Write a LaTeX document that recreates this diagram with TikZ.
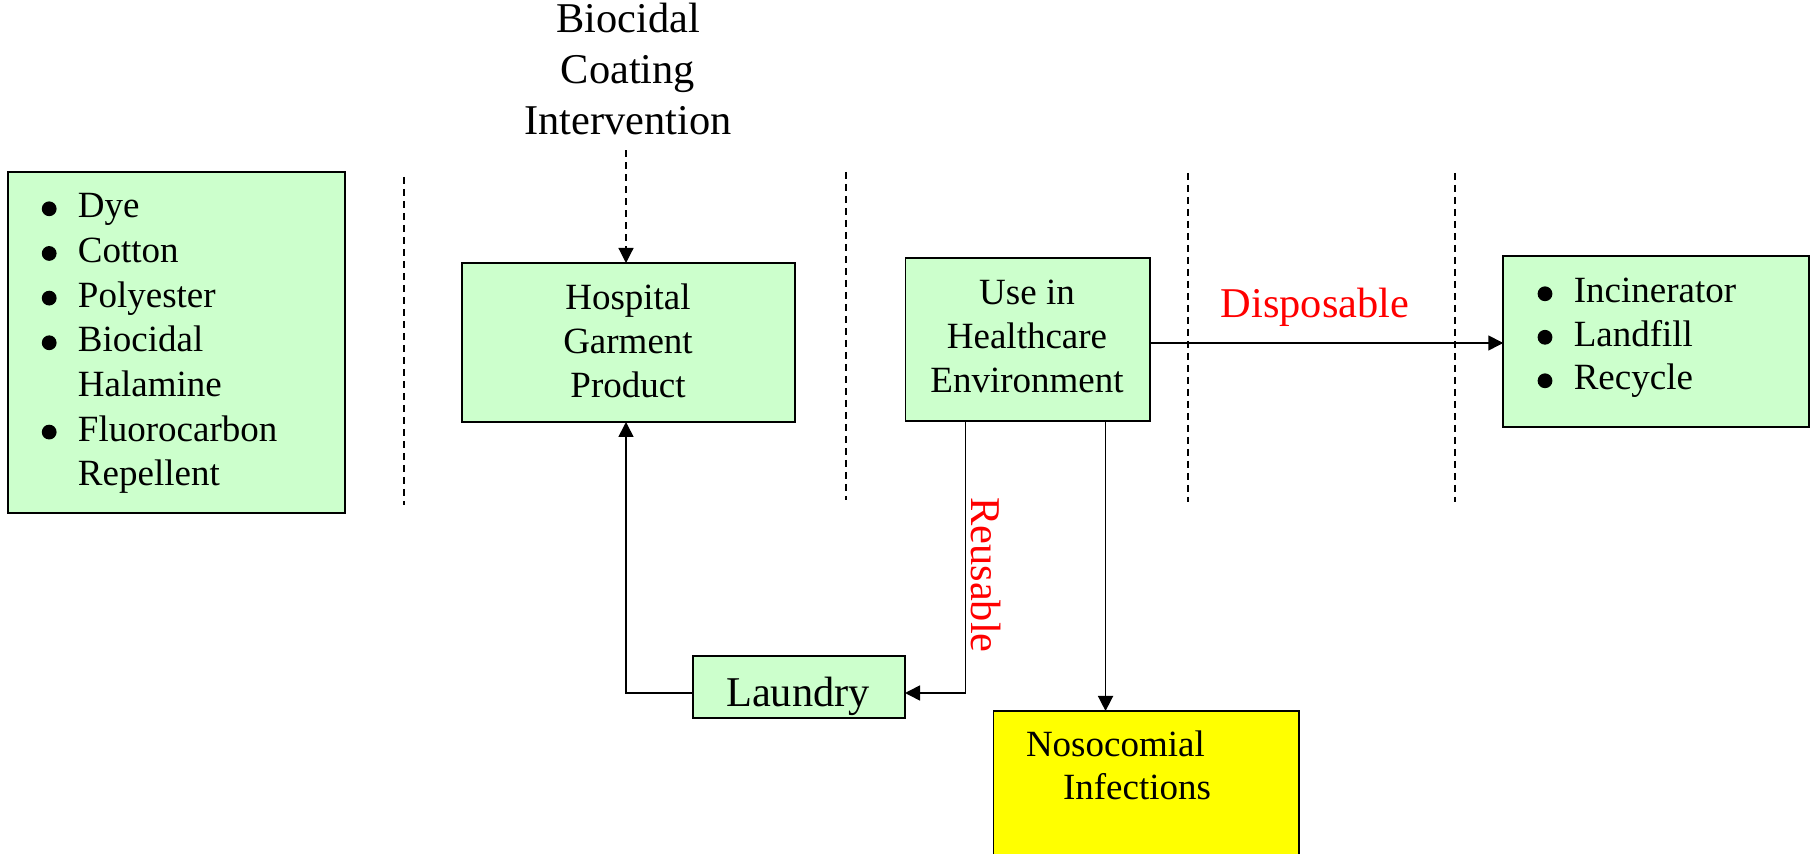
\documentclass[tikz,border=0pt]{standalone}
\usepackage{fontspec}
\setmainfont{Liberation Serif}
\usetikzlibrary{arrows.meta}
\definecolor{boxgreen}{HTML}{CCFFCC}
\definecolor{nosoyellow}{HTML}{FFFF00}
\definecolor{lblred}{HTML}{FF0000}
\newcommand{\blt}{\tikz[baseline=0pt]\fill[black] (0pt,4.6pt) circle[radius=3.7pt];}
\newcommand{\bitem}[1]{\makebox[14.4pt][l]{\hspace*{-3.7pt}\blt}#1}
\newcommand{\bcont}[1]{\hspace*{14.4pt}#1}
\newcommand{\bodyfont}[1]{\fontsize{18.5pt}{#1}\selectfont}
\newcommand{\lblfont}[1]{\fontsize{21.2pt}{#1}\selectfont}
\begin{document}
\begin{tikzpicture}[x=0.5pt,y=-0.5pt,
  every node/.style={inner sep=0pt,outer sep=0pt},
  gbox/.style={draw,line width=0.9pt,fill=boxgreen},
  ybox/.style={draw,line width=0.9pt,fill=nosoyellow},
  sep/.style={line width=0.6pt,dash pattern=on 3.5pt off 2.5pt},
  conn/.style={line width=0.8pt,-{Triangle[length=7.5pt,width=7.5pt]}},
  redlbl/.style={text=lblred,font=\lblfont{25.5pt}}]
\clip (0,0) rectangle (1811,854);
\fill[white] (0,0) rectangle (1811,854);

% boxes
\node[gbox,minimum width=168.5pt,minimum height=170.5pt] (mat) at (176.5,342.5) {};
\node[gbox,minimum width=166.5pt,minimum height=79.5pt] (hosp) at (628.5,342.5) {};
\node[gbox,minimum width=122.25pt,minimum height=81.5pt] (use) at (1027.75,339.5) {};
\node[gbox,minimum width=152.75pt,minimum height=85.5pt] (bin) at (1656,341.5) {};
\node[gbox,minimum width=106pt,minimum height=31pt] (laundry) at (799,687) {};
\node[ybox,minimum width=152.75pt,minimum height=100pt] (noso) at (1146.25,811) {};

% texts
\node[anchor=base west,font=\bodyfont{22.33pt}] (matT) at (49.2,218)
  {\begin{tabular}[t]{@{}l@{}}\bitem{Dye}\\ \bitem{Cotton}\\ \bitem{Polyester}\\ \bitem{Biocidal}\\ \bcont{Halamine}\\ \bitem{Fluorocarbon}\\ \bcont{Repellent}\end{tabular}};
\node[anchor=base,font=\lblfont{25.5pt}] (title) at (628,33)
  {\begin{tabular}[t]{@{}c@{}}Biocidal\\ Coating\\ Intervention\end{tabular}};
\node[anchor=base,font=\bodyfont{22pt}] (hospT) at (628,310)
  {\begin{tabular}[t]{@{}c@{}}Hospital\\ Garment\\ Product\end{tabular}};
\node[anchor=base,font=\bodyfont{22pt}] (useT) at (1027,305)
  {\begin{tabular}[t]{@{}c@{}}Use in\\ Healthcare\\ Environment\end{tabular}};
\node[anchor=base west,font=\bodyfont{21.75pt}] (binT) at (1545,303)
  {\begin{tabular}[t]{@{}l@{}}\bitem{Incinerator}\\ \bitem{Landfill}\\ \bitem{Recycle}\end{tabular}};
\node[anchor=base,font=\lblfont{25pt}] (laundryT) at (798,707) {Laundry};
\node[anchor=base west,font=\bodyfont{21.5pt}] (nosoT) at (1026,757)
  {\begin{tabular}[t]{@{}l@{}}Nosocomial\\ \hspace*{18.5pt}Infections\end{tabular}};
\node[redlbl,anchor=base] (disp) at (1315,318) {Disposable};
\node[redlbl,anchor=base,rotate=-90] (reus) at (971,575) {Reusable};

% separators
\draw[sep] (404,177) -- (404,505);
\draw[sep] (846,172) -- (846,500);
\draw[sep] (1188,173) -- (1188,502);
\draw[sep] (1455,173) -- (1455,502);

% connectors
\draw[conn,line width=0.6pt,dash pattern=on 3.5pt off 2.5pt] ([xshift=-1pt]title.south) -- ([xshift=-1pt]title.south |- hosp.north);
\draw[conn] ([yshift=-1.75pt]use.east) -- ([yshift=-1.75pt]use.east -| bin.west);
\draw[conn] ([xshift=-31.1pt]use.south) |- ([yshift=-3pt]laundry.east);
\draw[conn] ([yshift=-3pt]laundry.west) -| ([xshift=-1.25pt]hosp.south);
\draw[conn] ([xshift=38.9pt]use.south) -- ([xshift=38.9pt]use.south |- noso.north);
\end{tikzpicture}
\end{document}
